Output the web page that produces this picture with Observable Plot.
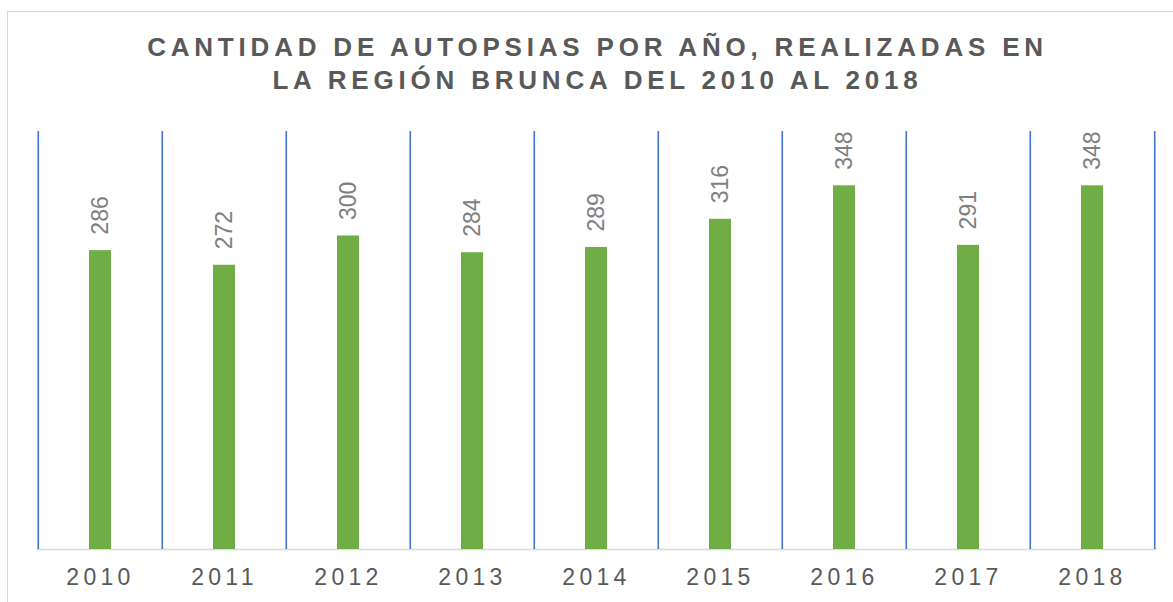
<!DOCTYPE html>
<html>
<head>
<meta charset="utf-8">
<script src="https://cdn.jsdelivr.net/npm/d3@7"></script>
<script src="https://cdn.jsdelivr.net/npm/@observablehq/plot@0.6"></script>
<style>
  html, body { margin: 0; padding: 0; background: #fff; overflow: hidden; }
  body { width: 1173px; height: 602px; position: relative; font-family: "Liberation Sans", Arial, sans-serif; }
  #frame { position: absolute; left: 7px; top: 11px; width: 1200px; height: 640px; border: 1px solid #d9d9d9; box-sizing: border-box; pointer-events: none; }
  #title { position: relative; width: 1195px; height: 118px; box-sizing: border-box; padding-top: 31px; text-align: center;
           font-size: 26px; line-height: 33.4px; font-weight: bold; letter-spacing: 4.8px; color: #595959; }
  #chart svg { display: block; }
  g[aria-label="x-axis tick label"] text { letter-spacing: 4.3px; }
</style>
</head>
<body>
<div id="frame"></div>
<div id="title">CANTIDAD DE AUTOPSIAS POR AÑO, REALIZADAS EN<br>LA REGIÓN BRUNCA DEL 2010 AL 2018</div>
<div id="chart"></div>
<script>
const years = ["2010", "2011", "2012", "2013", "2014", "2015", "2016", "2017", "2018"];
const autopsias = [286, 272, 300, 284, 289, 316, 348, 291, 348];

const data = years.map((year, i) => ({year, value: autopsias[i]}));

const width = 1173, height = 484, marginLeft = 36.5, marginRight = 16.5;
const step = (width - marginLeft - marginRight) / years.length;

const plot = Plot.plot({
  width, height,
  marginTop: 13, marginBottom: 53, marginLeft, marginRight,
  style: {fontFamily: "'Liberation Sans', Arial, sans-serif", background: "transparent"},
  x: {type: "band", domain: years, paddingInner: 0.82, paddingOuter: 0.41, axis: null},
  y: {domain: [0, 400], axis: null},
  marks: [
    Plot.ruleY([0], {stroke: "#d9d9d9", strokeWidth: 1.5}),
    Plot.barY(data, {x: "year", y: "value", fill: "#70AD47"}),
    Plot.ruleX(years, {x: d => d, dx: -step / 2, stroke: "#4472C4", strokeWidth: 1.6}),
    Plot.ruleX(years.slice(-1), {x: d => d, dx: step / 2, stroke: "#4472C4", strokeWidth: 1.6}),
    Plot.text(data, {x: "year", y: "value", text: d => String(d.value), rotate: -90, textAnchor: "start",
      dy: -16, fontSize: 23, fill: "#7f7f7f"}),
    Plot.axisX({tickSize: 0, tickPadding: 19, fontSize: 23, fill: "#595959", label: null})
  ]
});
document.getElementById("chart").appendChild(plot);
</script>
</body>
</html>
